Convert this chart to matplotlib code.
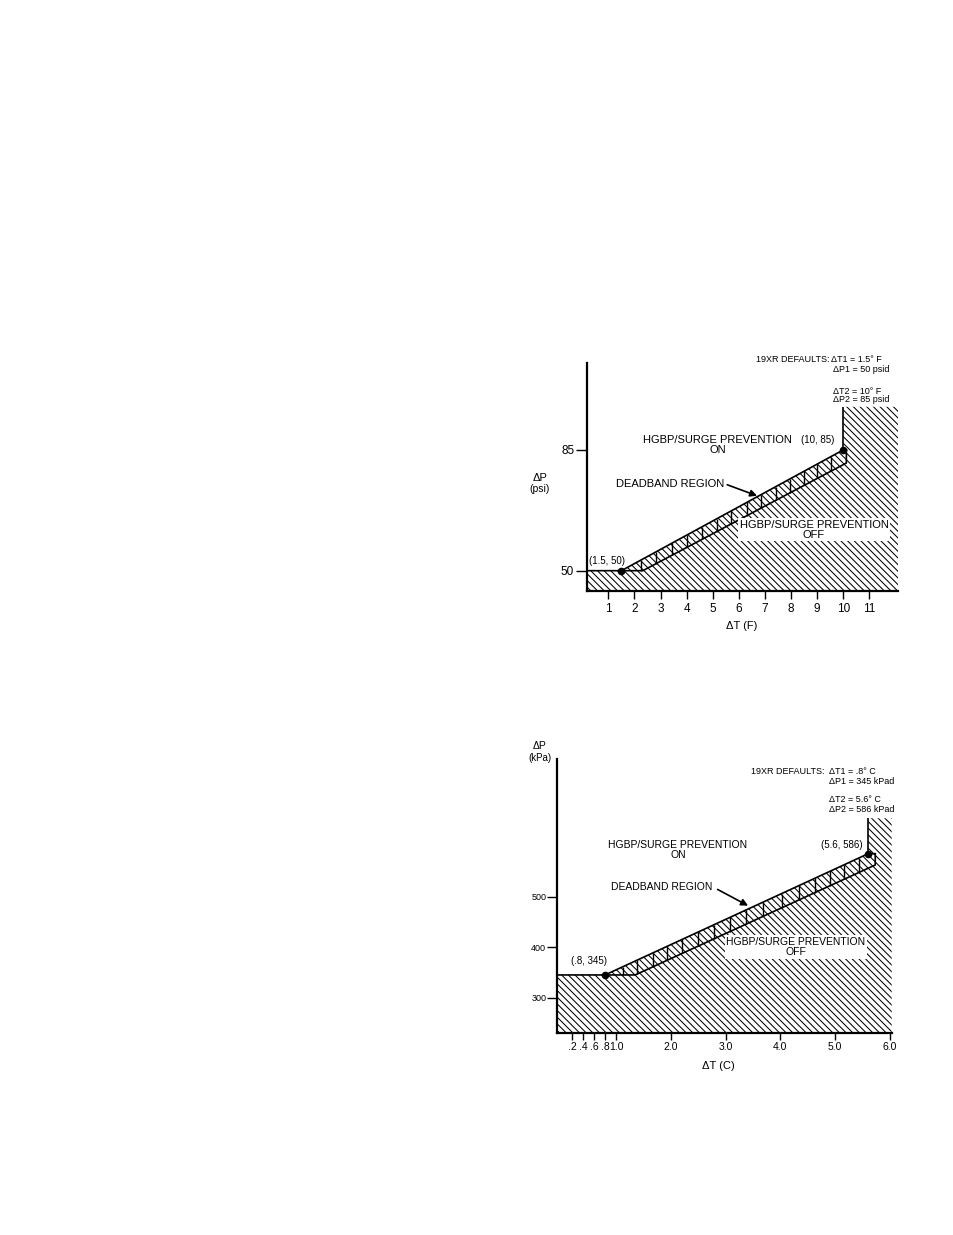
import numpy as np
import matplotlib
matplotlib.use("Agg")
import matplotlib.pyplot as plt
from matplotlib.patches import Polygon

plt.rcParams['font.family'] = ['Liberation Sans', 'DejaVu Sans']
plt.rcParams['hatch.linewidth'] = 0.75

W, H = 954, 1235

# ---- delta T in deg F / delta P in psi ----
f_xticks = [1, 2, 3, 4, 5, 6, 7, 8, 9, 10, 11]
f_yticks = [50, 85]
f_dt1, f_dp1 = 1.5, 50
f_dt2, f_dp2 = 10, 85
f_knee = 2.32        # lower deadband edge leaves dp1 here
f_end = 10.12        # right end of the deadband
f_end_low = 81.2     # lower deadband edge at its right end
f_top = 97.5         # top of hatched area right of dt2
f_dividers = [2.24, 2.82, 3.43, 4.00, 4.60, 5.15, 5.70, 6.30, 6.84, 7.41,
              7.96, 8.50, 9.01, 9.52]
f_xlim = (0.17, 12.11)
f_ylim = (44.2, 110.1)

# ---- delta T in deg C / delta P in kPa ----
c_xticks = [0.2, 0.4, 0.6, 0.8, 1, 2, 3, 4, 5, 6]
c_xticklabels = ['.2', '.4', '.6', '.8', '1.0', '2.0', '3.0', '4.0', '5.0', '6.0']
c_yticks = [300, 400, 500]
c_dt1, c_dp1 = 0.8, 345
c_dt2, c_dp2 = 5.6, 586
c_knee = 1.35
c_end = 5.73
c_end_low = 563.6
c_top = 656.5
c_dividers = [1.12, 1.38, 1.67, 1.94, 2.21, 2.49, 2.78, 3.08, 3.37, 3.69,
              4.02, 4.33, 4.63, 4.91, 5.16, 5.43]
c_xlim = (-0.07, 6.03)
c_ylim = (230.2, 773.7)

HATCH = '\\' * 5


def fp(x, y):
    # pixel position -> figure fraction
    return x / W, 1 - y / H


def draw_panel(ax, xlim, ylim, dt1, dp1, dt2, dp2, knee, end, end_low, top, dividers):
    x0, x1 = xlim
    y0, y1 = ylim
    off = [(x0, y0), (x0, dp1), (knee, dp1), (end, end_low), (end, dp2),
           (dt2, dp2), (dt2, top), (x1, top), (x1, y0)]
    band = [(dt1, dp1), (dt2, dp2), (end, dp2), (end, end_low), (knee, dp1)]
    for pts in (off, band):
        ax.add_patch(Polygon(pts, closed=True, facecolor='white', edgecolor='black',
                             hatch=HATCH, linewidth=0))
    lw = 1.2
    ax.plot([x0, knee, end, end], [dp1, dp1, end_low, dp2], color='black', lw=lw)
    ax.plot([dt1, dt2, end], [dp1, dp2, dp2], color='black', lw=lw)
    ax.plot([dt2, dt2], [dp2, top], color='black', lw=lw, solid_capstyle='butt')
    up = np.interp(dividers, [dt1, dt2], [dp1, dp2])
    lo = np.interp(dividers, [knee, end], [dp1, end_low])
    ax.vlines(dividers, lo, up, color='black', lw=1.0)
    ax.plot([dt1, dt2], [dp1, dp2], 'o', color='black', ms=4.5, zorder=5)

    ax.set_xlim(xlim)
    ax.set_ylim(ylim)
    ax.patch.set_alpha(0)
    for s in ('top', 'right'):
        ax.spines[s].set_visible(False)
    for s in ('left', 'bottom'):
        ax.spines[s].set_linewidth(1.6)
        ax.spines[s].set_zorder(6)


fig = plt.figure(figsize=(W / 100, H / 100), dpi=100)

# ================= top panel =================
ax = fig.add_axes([586.7 / W, 1 - 590.7 / H, (898.3 - 586.7) / W, (590.7 - 363.3) / H])
draw_panel(ax, f_xlim, f_ylim, f_dt1, f_dp1, f_dt2, f_dp2, f_knee, f_end,
           f_end_low, f_top, f_dividers)
ax.set_xticks(f_xticks)
ax.set_yticks(f_yticks)
ax.tick_params(axis='x', direction='out', length=6, width=1, labelsize=8.5, pad=3)
ax.tick_params(axis='y', direction='out', length=8, width=1, labelsize=8.5, pad=1)

ax.text(0.96, 52.9, '(1.5, 50)', ha='center', va='center', fontsize=7)
ax.text(9.03, 87.9, '(10, 85)', ha='center', va='center', fontsize=7)
ax.text(5.19, 86.5, 'HGBP/SURGE PREVENTION\nON', ha='center', va='center',
        fontsize=8, linespacing=1.0)
ax.annotate('DEADBAND REGION', xy=(6.70, 71.7), xytext=(1.30, 75.2),
            ha='left', va='center', fontsize=8,
            arrowprops=dict(arrowstyle='-|>', color='black', lw=1.2,
                            shrinkA=0, shrinkB=0, mutation_scale=10,
                            relpos=(1.0, 0.5)))
ax.text(8.88, 61.9, 'HGBP/SURGE PREVENTION\nOFF', ha='center', va='center',
        fontsize=8, linespacing=1.0, zorder=7,
        bbox=dict(boxstyle='square,pad=0.15', facecolor='white', edgecolor='none'))

fig.text(*fp(540, 478), 'ΔP', ha='center', va='center', fontsize=8)
fig.text(*fp(540, 489), '(psi)', ha='center', va='center', fontsize=7.5)
fig.text(*fp(742, 626), 'ΔT (F)', ha='center', va='center', fontsize=8)
fig.text(*fp(830, 360), '19XR DEFAULTS:', ha='right', va='center', fontsize=6.5)
fig.text(*fp(831, 360), 'ΔT1 = 1.5° F', ha='left', va='center', fontsize=6.5)
fig.text(*fp(833, 369), 'ΔP1 = 50 psid', ha='left', va='center', fontsize=6.5)
fig.text(*fp(833, 391), 'ΔT2 = 10° F', ha='left', va='center', fontsize=6.5)
fig.text(*fp(833, 400), 'ΔP2 = 85 psid', ha='left', va='center', fontsize=6.5)

# ================= bottom panel =================
ax2 = fig.add_axes([557.3 / W, 1 - 1032.7 / H, (891.7 - 557.3) / W, (1032.7 - 759.3) / H])
draw_panel(ax2, c_xlim, c_ylim, c_dt1, c_dp1, c_dt2, c_dp2, c_knee, c_end,
           c_end_low, c_top, c_dividers)
ax2.set_xticks(c_xticks)
ax2.set_xticklabels(c_xticklabels)
ax2.set_yticks(c_yticks)
ax2.tick_params(axis='x', direction='out', length=5, width=1, labelsize=7.5, pad=2)
ax2.tick_params(axis='y', direction='out', length=7, width=1, labelsize=6.5, pad=1)

ax2.text(0.50, 373.4, '(.8, 345)', ha='center', va='center', fontsize=7)
ax2.text(5.12, 603.4, '(5.6, 586)', ha='center', va='center', fontsize=7)
ax2.text(2.13, 593.4, 'HGBP/SURGE PREVENTION\nON', ha='center', va='center',
         fontsize=7.5, linespacing=1.0)
ax2.annotate('DEADBAND REGION', xy=(3.41, 482.7), xytext=(0.91, 520.5),
             ha='left', va='center', fontsize=7.5,
             arrowprops=dict(arrowstyle='-|>', color='black', lw=1.2,
                             shrinkA=2, shrinkB=0, mutation_scale=10,
                             relpos=(1.0, 0.5)))
ax2.text(4.28, 400.6, 'HGBP/SURGE PREVENTION\nOFF', ha='center', va='center',
         fontsize=7.5, linespacing=1.0, zorder=7,
         bbox=dict(boxstyle='square,pad=0.15', facecolor='white', edgecolor='none'))

fig.text(*fp(540, 746), 'ΔP', ha='center', va='center', fontsize=7.5)
fig.text(*fp(540, 758), '(kPa)', ha='center', va='center', fontsize=7)
fig.text(*fp(718, 1066), 'ΔT (C)', ha='center', va='center', fontsize=8)
fig.text(*fp(751, 771), '19XR DEFAULTS:', ha='left', va='center', fontsize=6.5)
fig.text(*fp(829, 771), 'ΔT1 = .8° C', ha='left', va='center', fontsize=6.5)
fig.text(*fp(829, 781), 'ΔP1 = 345 kPad', ha='left', va='center', fontsize=6.5)
fig.text(*fp(829, 800), 'ΔT2 = 5.6° C', ha='left', va='center', fontsize=6.5)
fig.text(*fp(829, 810), 'ΔP2 = 586 kPad', ha='left', va='center', fontsize=6.5)

fig.savefig('out.png', dpi=100, facecolor='white')
